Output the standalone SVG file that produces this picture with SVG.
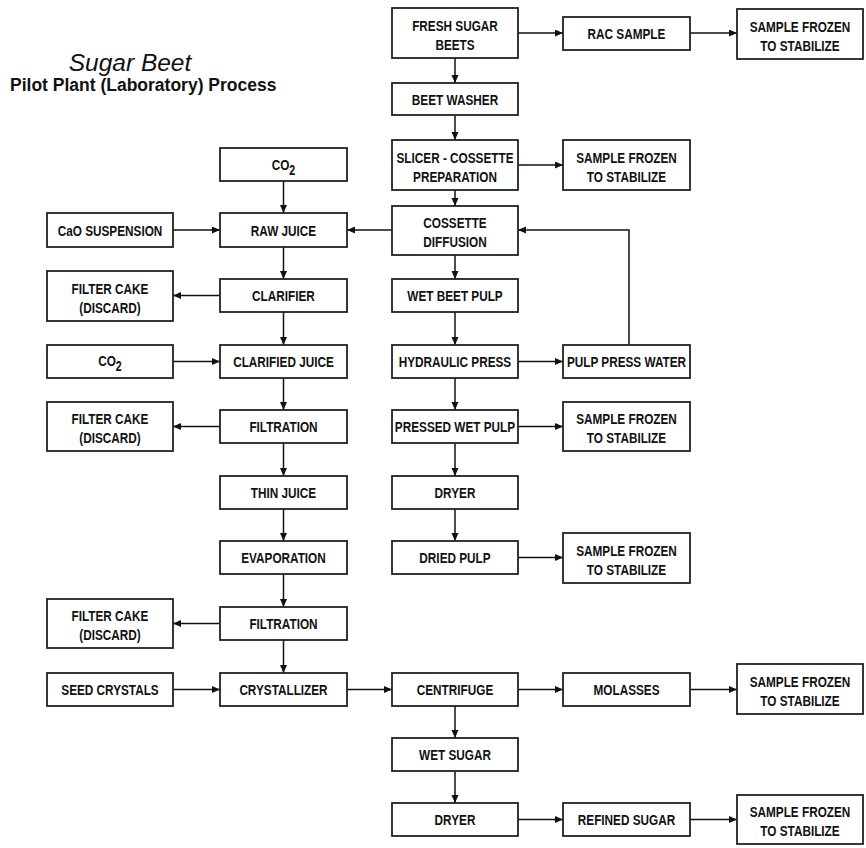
<svg xmlns="http://www.w3.org/2000/svg" width="866" height="848" viewBox="0 0 866 848">
  <defs>
    <marker id="arrow" markerUnits="userSpaceOnUse" markerWidth="9" markerHeight="8" refX="8" refY="3.5" orient="auto">
      <path d="M0,0 L8,3.5 L0,7 z" fill="#111"/>
    </marker>
    <style>
      .box { fill: #fff; stroke: #222; stroke-width: 1.8; }
      .t { font-family: "Liberation Sans", Arial, Helvetica, sans-serif; font-weight: bold; font-size: 15.5px; text-anchor: middle; fill: #111; }
      .sub { font-size: 14px; }
      .edge { fill: none; stroke: #111; stroke-width: 1.5; marker-end: url(#arrow); }
      .title1 { font-family: "Liberation Sans", Arial, sans-serif; font-style: italic; font-size: 24.5px; fill: #111; }
      .title2 { font-family: "Liberation Sans", Arial, sans-serif; font-weight: bold; font-size: 17.5px; fill: #111; }
    </style>
  </defs>

  <rect width="866" height="848" fill="#fff"/>

  <!-- heading -->
  <text class="title1" x="130" y="71" text-anchor="middle">Sugar Beet</text>
  <text class="title2" x="10" y="91">Pilot Plant (Laboratory) Process</text>

  <!-- connectors -->
  <g id="connectors">
    <line class="edge" x1="518" y1="33" x2="563" y2="33"/>
    <line class="edge" x1="690" y1="33" x2="737" y2="33"/>
    <line class="edge" x1="455" y1="58" x2="455" y2="83"/>
    <line class="edge" x1="455" y1="115" x2="455" y2="140"/>
    <line class="edge" x1="518" y1="165" x2="563" y2="165"/>
    <line class="edge" x1="455" y1="190" x2="455" y2="206"/>
    <line class="edge" x1="392" y1="230" x2="347" y2="230"/>
    <line class="edge" x1="283.5" y1="181" x2="283.5" y2="213"/>
    <line class="edge" x1="173" y1="230" x2="220" y2="230"/>
    <line class="edge" x1="283.5" y1="247" x2="283.5" y2="279"/>
    <line class="edge" x1="220" y1="295.5" x2="173" y2="295.5"/>
    <line class="edge" x1="283.5" y1="312" x2="283.5" y2="345"/>
    <line class="edge" x1="173" y1="361.5" x2="220" y2="361.5"/>
    <line class="edge" x1="283.5" y1="378" x2="283.5" y2="410"/>
    <line class="edge" x1="220" y1="426.5" x2="173" y2="426.5"/>
    <line class="edge" x1="283.5" y1="443" x2="283.5" y2="476"/>
    <line class="edge" x1="283.5" y1="509" x2="283.5" y2="541"/>
    <line class="edge" x1="283.5" y1="574" x2="283.5" y2="607"/>
    <line class="edge" x1="220" y1="623.5" x2="173" y2="623.5"/>
    <line class="edge" x1="283.5" y1="640" x2="283.5" y2="673"/>
    <line class="edge" x1="173" y1="689.5" x2="220" y2="689.5"/>
    <line class="edge" x1="347" y1="689.5" x2="392" y2="689.5"/>
    <line class="edge" x1="518" y1="689.5" x2="563" y2="689.5"/>
    <line class="edge" x1="690" y1="689.5" x2="737" y2="689.5"/>
    <line class="edge" x1="455" y1="706" x2="455" y2="738"/>
    <line class="edge" x1="455" y1="771" x2="455" y2="803"/>
    <line class="edge" x1="518" y1="819.5" x2="563" y2="819.5"/>
    <line class="edge" x1="690" y1="819.5" x2="737" y2="819.5"/>
    <line class="edge" x1="455" y1="255" x2="455" y2="279"/>
    <line class="edge" x1="455" y1="312" x2="455" y2="345"/>
    <line class="edge" x1="518" y1="361.5" x2="563" y2="361.5"/>
    <polyline class="edge" points="629,345 629,230 518,230"/>
    <line class="edge" x1="455" y1="378" x2="455" y2="410"/>
    <line class="edge" x1="518" y1="426.5" x2="563" y2="426.5"/>
    <line class="edge" x1="455" y1="443" x2="455" y2="476"/>
    <line class="edge" x1="455" y1="509" x2="455" y2="541"/>
    <line class="edge" x1="518" y1="557.5" x2="563" y2="557.5"/>
  </g>

  <!-- beet handling column -->
  <g id="fresh-beets">
    <rect class="box" x="392" y="8" width="126" height="50"/>
    <text class="t" transform="translate(455,30.5) scale(0.76,1)"><tspan x="0" y="0">FRESH SUGAR</tspan><tspan x="0" y="19.5">BEETS</tspan></text>
  </g>
  <g id="rac-sample">
    <rect class="box" x="563" y="17" width="127" height="33"/>
    <text class="t" transform="translate(626.5,39) scale(0.76,1)">RAC SAMPLE</text>
  </g>
  <g id="frozen-rac">
    <rect class="box" x="737" y="9" width="126" height="50"/>
    <text class="t" transform="translate(800,31.5) scale(0.76,1)"><tspan x="0" y="0">SAMPLE FROZEN</tspan><tspan x="0" y="19.5">TO STABILIZE</tspan></text>
  </g>
  <g id="beet-washer">
    <rect class="box" x="392" y="83" width="126" height="32"/>
    <text class="t" transform="translate(455,104.5) scale(0.76,1)">BEET WASHER</text>
  </g>
  <g id="slicer">
    <rect class="box" x="392" y="140" width="126" height="50"/>
    <text class="t" transform="translate(455,162.5) scale(0.76,1)"><tspan x="0" y="0">SLICER - COSSETTE</tspan><tspan x="0" y="19.5">PREPARATION</tspan></text>
  </g>
  <g id="frozen-cossettes">
    <rect class="box" x="563" y="140" width="127" height="50"/>
    <text class="t" transform="translate(626.5,162.5) scale(0.76,1)"><tspan x="0" y="0">SAMPLE FROZEN</tspan><tspan x="0" y="19.5">TO STABILIZE</tspan></text>
  </g>
  <g id="cossette-diffusion">
    <rect class="box" x="392" y="206" width="126" height="49"/>
    <text class="t" transform="translate(455,228) scale(0.76,1)"><tspan x="0" y="0">COSSETTE</tspan><tspan x="0" y="19.5">DIFFUSION</tspan></text>
  </g>
  <g id="wet-beet-pulp">
    <rect class="box" x="392" y="279" width="126" height="33"/>
    <text class="t" transform="translate(455,301) scale(0.76,1)">WET BEET PULP</text>
  </g>
  <g id="hydraulic-press">
    <rect class="box" x="392" y="345" width="126" height="33"/>
    <text class="t" transform="translate(455,367) scale(0.76,1)">HYDRAULIC PRESS</text>
  </g>
  <g id="pulp-press-water">
    <rect class="box" x="563" y="345" width="127" height="33"/>
    <text class="t" transform="translate(626.5,367) scale(0.76,1)">PULP PRESS WATER</text>
  </g>
  <g id="pressed-wet-pulp">
    <rect class="box" x="392" y="410" width="126" height="33"/>
    <text class="t" transform="translate(455,432) scale(0.76,1)">PRESSED WET PULP</text>
  </g>
  <g id="frozen-pressed">
    <rect class="box" x="563" y="402" width="127" height="49"/>
    <text class="t" transform="translate(626.5,424) scale(0.76,1)"><tspan x="0" y="0">SAMPLE FROZEN</tspan><tspan x="0" y="19.5">TO STABILIZE</tspan></text>
  </g>
  <g id="pulp-dryer">
    <rect class="box" x="392" y="476" width="126" height="33"/>
    <text class="t" transform="translate(455,498) scale(0.76,1)">DRYER</text>
  </g>
  <g id="dried-pulp">
    <rect class="box" x="392" y="541" width="126" height="33"/>
    <text class="t" transform="translate(455,563) scale(0.76,1)">DRIED PULP</text>
  </g>
  <g id="frozen-dried">
    <rect class="box" x="563" y="533" width="127" height="50"/>
    <text class="t" transform="translate(626.5,555.5) scale(0.76,1)"><tspan x="0" y="0">SAMPLE FROZEN</tspan><tspan x="0" y="19.5">TO STABILIZE</tspan></text>
  </g>

  <!-- juice purification column -->
  <g id="co2-first">
    <rect class="box" x="220" y="148" width="127" height="33"/>
    <text class="t" transform="translate(283.5,169.5) scale(0.76,1)">CO<tspan class="sub" dy="5">2</tspan></text>
  </g>
  <g id="cao-suspension">
    <rect class="box" x="47" y="213" width="126" height="34"/>
    <text class="t" transform="translate(110,235.5) scale(0.76,1)">CaO SUSPENSION</text>
  </g>
  <g id="raw-juice">
    <rect class="box" x="220" y="213" width="127" height="34"/>
    <text class="t" transform="translate(283.5,235.5) scale(0.76,1)">RAW JUICE</text>
  </g>
  <g id="filter-cake-1">
    <rect class="box" x="47" y="271" width="126" height="50"/>
    <text class="t" transform="translate(110,293.5) scale(0.76,1)"><tspan x="0" y="0">FILTER CAKE</tspan><tspan x="0" y="19.5">(DISCARD)</tspan></text>
  </g>
  <g id="clarifier">
    <rect class="box" x="220" y="279" width="127" height="33"/>
    <text class="t" transform="translate(283.5,301) scale(0.76,1)">CLARIFIER</text>
  </g>
  <g id="co2-second">
    <rect class="box" x="47" y="345" width="126" height="33"/>
    <text class="t" transform="translate(110,366) scale(0.76,1)">CO<tspan class="sub" dy="5">2</tspan></text>
  </g>
  <g id="clarified-juice">
    <rect class="box" x="220" y="345" width="127" height="33"/>
    <text class="t" transform="translate(283.5,367) scale(0.76,1)">CLARIFIED JUICE</text>
  </g>
  <g id="filter-cake-2">
    <rect class="box" x="47" y="402" width="126" height="49"/>
    <text class="t" transform="translate(110,424) scale(0.76,1)"><tspan x="0" y="0">FILTER CAKE</tspan><tspan x="0" y="19.5">(DISCARD)</tspan></text>
  </g>
  <g id="filtration-1">
    <rect class="box" x="220" y="410" width="127" height="33"/>
    <text class="t" transform="translate(283.5,432) scale(0.76,1)">FILTRATION</text>
  </g>
  <g id="thin-juice">
    <rect class="box" x="220" y="476" width="127" height="33"/>
    <text class="t" transform="translate(283.5,498) scale(0.76,1)">THIN JUICE</text>
  </g>
  <g id="evaporation">
    <rect class="box" x="220" y="541" width="127" height="33"/>
    <text class="t" transform="translate(283.5,563) scale(0.76,1)">EVAPORATION</text>
  </g>
  <g id="filter-cake-3">
    <rect class="box" x="47" y="599" width="126" height="49"/>
    <text class="t" transform="translate(110,621) scale(0.76,1)"><tspan x="0" y="0">FILTER CAKE</tspan><tspan x="0" y="19.5">(DISCARD)</tspan></text>
  </g>
  <g id="filtration-2">
    <rect class="box" x="220" y="607" width="127" height="33"/>
    <text class="t" transform="translate(283.5,629) scale(0.76,1)">FILTRATION</text>
  </g>

  <!-- crystallisation and sugar -->
  <g id="seed-crystals">
    <rect class="box" x="47" y="673" width="126" height="33"/>
    <text class="t" transform="translate(110,695) scale(0.76,1)">SEED CRYSTALS</text>
  </g>
  <g id="crystallizer">
    <rect class="box" x="220" y="673" width="127" height="33"/>
    <text class="t" transform="translate(283.5,695) scale(0.76,1)">CRYSTALLIZER</text>
  </g>
  <g id="centrifuge">
    <rect class="box" x="392" y="673" width="126" height="33"/>
    <text class="t" transform="translate(455,695) scale(0.76,1)">CENTRIFUGE</text>
  </g>
  <g id="molasses">
    <rect class="box" x="563" y="673" width="127" height="33"/>
    <text class="t" transform="translate(626.5,695) scale(0.76,1)">MOLASSES</text>
  </g>
  <g id="frozen-molasses">
    <rect class="box" x="737" y="664" width="126" height="50"/>
    <text class="t" transform="translate(800,686.5) scale(0.76,1)"><tspan x="0" y="0">SAMPLE FROZEN</tspan><tspan x="0" y="19.5">TO STABILIZE</tspan></text>
  </g>
  <g id="wet-sugar">
    <rect class="box" x="392" y="738" width="126" height="33"/>
    <text class="t" transform="translate(455,760) scale(0.76,1)">WET SUGAR</text>
  </g>
  <g id="sugar-dryer">
    <rect class="box" x="392" y="803" width="126" height="33"/>
    <text class="t" transform="translate(455,825) scale(0.76,1)">DRYER</text>
  </g>
  <g id="refined-sugar">
    <rect class="box" x="563" y="803" width="127" height="33"/>
    <text class="t" transform="translate(626.5,825) scale(0.76,1)">REFINED SUGAR</text>
  </g>
  <g id="frozen-refined">
    <rect class="box" x="737" y="795" width="126" height="49"/>
    <text class="t" transform="translate(800,817) scale(0.76,1)"><tspan x="0" y="0">SAMPLE FROZEN</tspan><tspan x="0" y="19.5">TO STABILIZE</tspan></text>
  </g>
</svg>
